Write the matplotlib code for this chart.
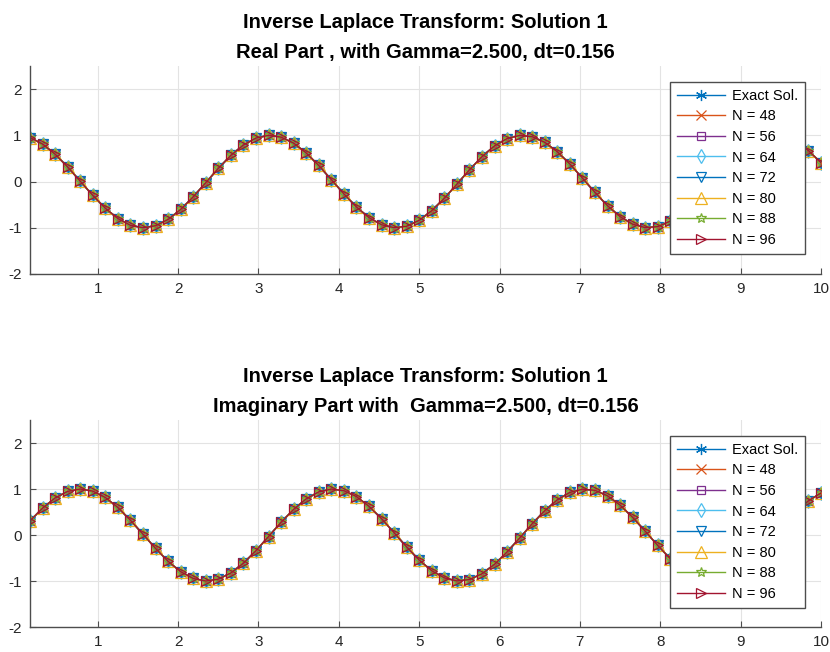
import matplotlib
matplotlib.use('Agg')
import matplotlib.pyplot as plt

plt.rcParams['font.family'] = ['Liberation Sans', 'DejaVu Sans']
plt.rcParams['axes.unicode_minus'] = False

# time samples, dt = 0.156
t = [0.156, 0.313, 0.469, 0.625, 0.781, 0.938, 1.094, 1.250,
     1.406, 1.563, 1.719, 1.875, 2.031, 2.188, 2.344, 2.500,
     2.656, 2.813, 2.969, 3.125, 3.281, 3.438, 3.594, 3.750,
     3.906, 4.063, 4.219, 4.375, 4.531, 4.688, 4.844, 5.000,
     5.156, 5.313, 5.469, 5.625, 5.781, 5.938, 6.094, 6.250,
     6.406, 6.563, 6.719, 6.875, 7.031, 7.188, 7.344, 7.500,
     7.656, 7.813, 7.969, 8.125, 8.281, 8.438, 8.594, 8.750,
     8.906, 9.063, 9.219, 9.375, 9.531, 9.688, 9.844, 10.000]

real_part = [0.952, 0.811, 0.592, 0.315, 0.008, -0.300, -0.578, -0.801,
             -0.947, -1.000, -0.956, -0.821, -0.605, -0.331, -0.025, 0.284,
             0.565, 0.791, 0.941, 1.000, 0.961, 0.830, 0.618, 0.347,
             0.042, -0.268, -0.551, -0.781, -0.935, -0.999, -0.967, -0.839,
             -0.631, -0.362, -0.058, 0.252, 0.538, 0.772, 0.930, 0.998,
             0.970, 0.848, 0.644, 0.379, 0.075, -0.236, -0.524, -0.760,
             -0.923, -0.997, -0.975, -0.857, -0.657, -0.394, -0.091, 0.219,
             0.510, 0.751, 0.917, 0.996, 0.977, 0.865, 0.669, 0.408]

imag_part = [0.307, 0.585, 0.806, 0.949, 1.000, 0.954, 0.816, 0.599,
             0.322, 0.017, -0.292, -0.572, -0.796, -0.944, -1.000, -0.959,
             -0.825, -0.612, -0.339, -0.033, 0.276, 0.558, 0.786, 0.938,
             0.999, 0.964, 0.835, 0.624, 0.355, 0.050, -0.260, -0.544,
             -0.776, -0.932, -0.998, -0.968, -0.843, -0.636, -0.368, -0.066,
             0.244, 0.530, 0.765, 0.926, 0.997, 0.972, 0.852, 0.650,
             0.385, 0.083, -0.227, -0.516, -0.754, -0.919, -0.996, -0.976,
             -0.860, -0.661, -0.399, -0.100, 0.211, 0.502, 0.743, 0.913]

N_values = [48, 56, 64, 72, 80, 88, 96]

labels = ['Exact Sol.'] + ['N = %d' % n for n in N_values]
colors = ['#0072BD', '#D95319', '#7E2F8E', '#4DBEEE', '#0072BD',
          '#EDB120', '#77AC30', '#A2142F']
# (6, 2, 0) is an asterisk, '*' in matplotlib is a five point star
markers = [(6, 2, 0), 'x', 's', 'd', 'v', '^', '*', '>']
msizes = [8, 7, 6, 7, 7, 8, 7, 7]

fig = plt.figure(figsize=(8.3, 6.52), dpi=100)
ax1 = fig.add_axes([0.0361, 0.5798, 0.953, 0.319])
ax2 = fig.add_axes([0.0361, 0.0383, 0.953, 0.3175])


def draw(ax, y, title):
    # exact solution first, then each approximation on top
    for i in range(len(labels)):
        ax.plot(t, y, color=colors[i], marker=markers[i], markersize=msizes[i],
                markerfacecolor='none', markeredgewidth=0.9,
                linewidth=1.0, label=labels[i])
    ax.set_xlim(0.156, 10)
    ax.set_ylim(-2, 2.5)
    ax.set_xticks(range(1, 11))
    ax.set_yticks([-2, -1, 0, 1, 2])
    ax.grid(True, color='#e3e3e3', linewidth=0.8)
    ax.set_axisbelow(True)
    for s in ['top', 'right']:
        ax.spines[s].set_visible(False)
    for s in ['left', 'bottom']:
        ax.spines[s].set_color('#4d4d4d')
        ax.spines[s].set_linewidth(1.0)
    ax.tick_params(direction='in', length=4, labelsize=11,
                   colors='#4d4d4d', labelcolor='#262626', pad=6)
    ax.set_title(title, fontsize=14.5, fontweight='bold', pad=6,
                 linespacing=1.7)
    leg = ax.legend(loc='upper right', bbox_to_anchor=(0.98, 0.925),
                    borderaxespad=0, fontsize=10.5, handlelength=3.3,
                    labelspacing=0.45, handletextpad=0.45,
                    fancybox=False, framealpha=1, borderpad=0.5)
    leg.get_frame().set_edgecolor('#4d4d4d')
    leg.get_frame().set_linewidth(1.0)


draw(ax1, real_part,
     'Inverse Laplace Transform: Solution 1\n'
     'Real Part , with Gamma=2.500, dt=0.156')
draw(ax2, imag_part,
     'Inverse Laplace Transform: Solution 1\n'
     'Imaginary Part with  Gamma=2.500, dt=0.156')

fig.savefig('out.png', dpi=100)
